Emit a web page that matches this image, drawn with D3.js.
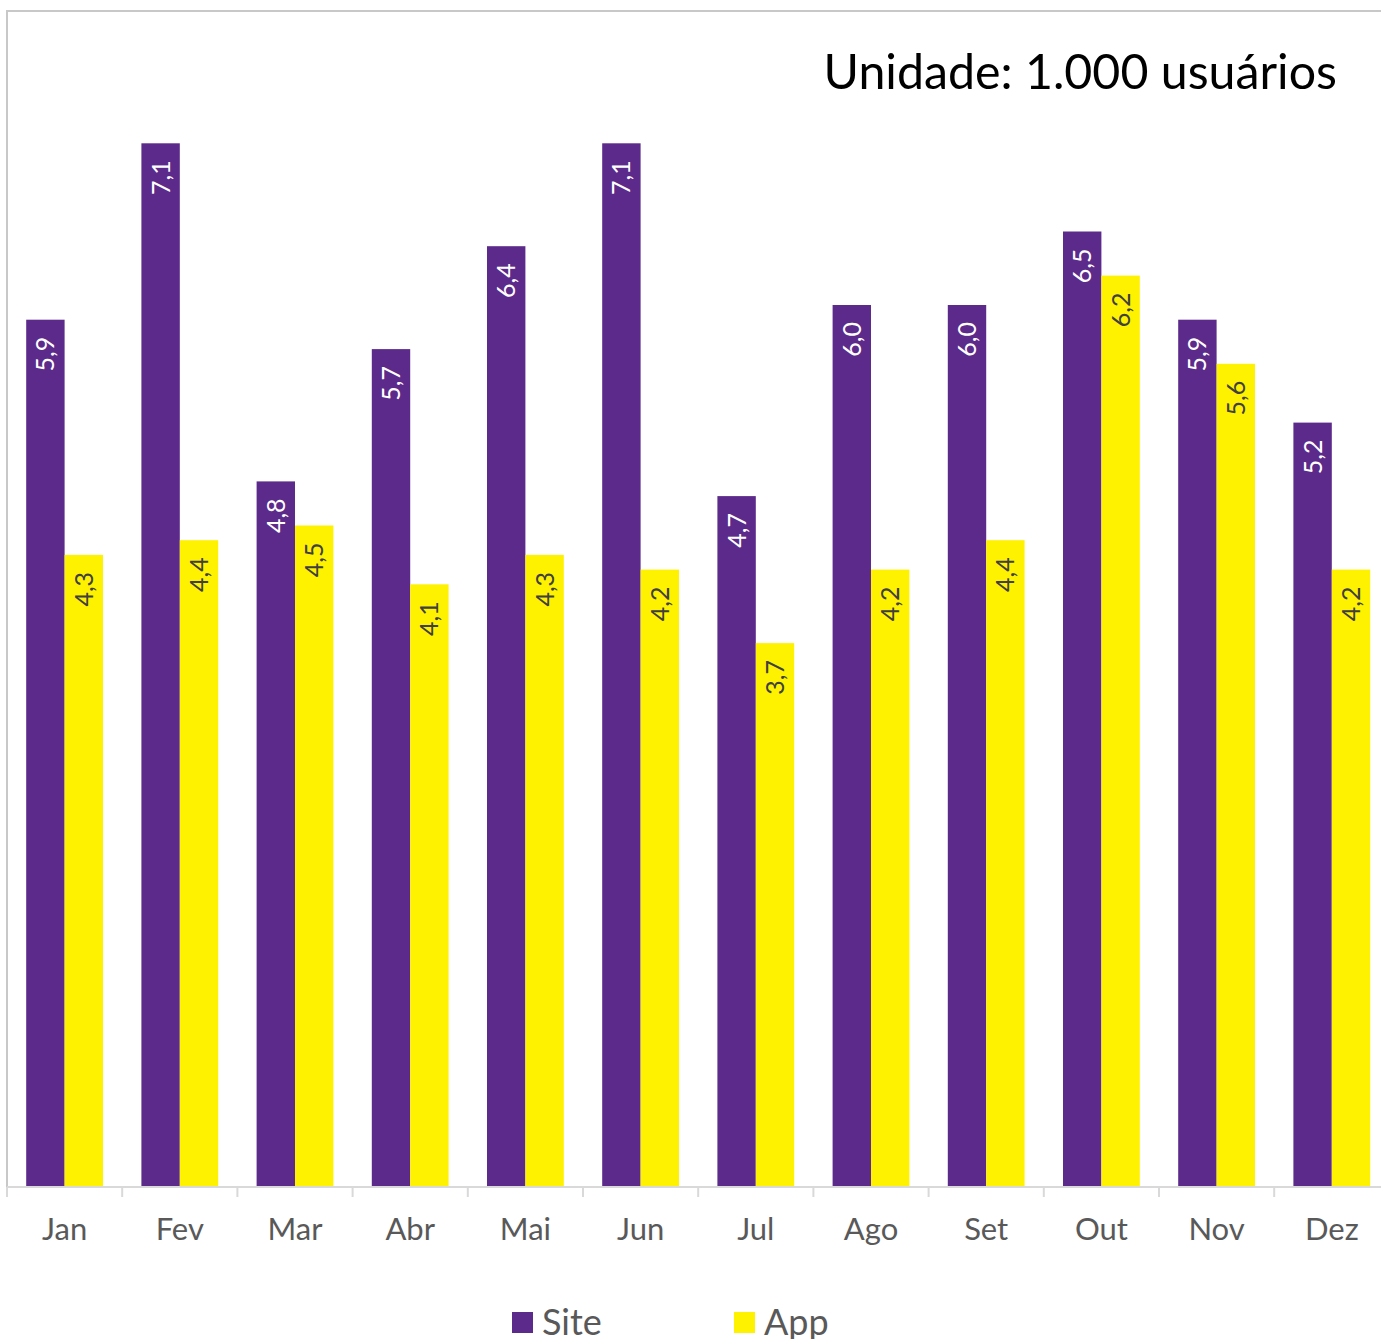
<!DOCTYPE html>
<html><head><meta charset="utf-8">
<script src="https://cdn.jsdelivr.net/npm/d3@7"></script>
<style>body{margin:0;background:#fff}svg{display:block}text{font-family:Lato,"Open Sans",sans-serif}</style>
</head><body>
<svg id="c" width="1381" height="1339"></svg>
<script>
const months = ["Jan","Fev","Mar","Abr","Mai","Jun","Jul","Ago","Set","Out","Nov","Dez"];
const siteValues = [5.9,7.1,4.8,5.7,6.4,7.1,4.7,6.0,6.0,6.5,5.9,5.2];
const appValues = [4.3,4.4,4.5,4.1,4.3,4.2,3.7,4.2,4.4,6.2,5.6,4.2];
const seriesNames = ["Site","App"];
const seriesColors = ["#5c2a8b","#fff200"];
const labelColors = ["#ffffff","#404040"];
const yMax = 8;
const titleText = "Unidade: 1.000 usuários";

(function(){
const svg = d3.select("#c");
const pLeft = 7, pTop = 11, pBottom = 1187, bandW = 115.2;
const pRight = pLeft + bandW * months.length;

svg.append("path").attr("d", `M${pLeft},${pBottom} V${pTop} H${pRight}`)
  .attr("fill","none").attr("stroke","#c8c8c8").attr("stroke-width",2);

const x = d3.scaleBand().domain(months).range([pLeft, pRight]).paddingInner(0).paddingOuter(0);
const x1 = d3.scaleBand().domain(seriesNames).range([0, bandW]).paddingInner(0).paddingOuter(0.5);
const y = d3.scaleLinear().domain([0, yMax]).range([pBottom, pTop]);

const data = months.map((m,i)=>({m, vals:[siteValues[i], appValues[i]]}));
const fmt = v => v.toFixed(1).replace(".", ",");

const g = svg.append("g");
data.forEach(d=>{
  d.vals.forEach((v,si)=>{
    const bx = x(d.m) + x1(seriesNames[si]);
    g.append("rect").attr("x", bx).attr("y", y(v)).attr("width", x1.bandwidth())
      .attr("height", y(0)-y(v)).attr("fill", seriesColors[si]);
    const cx = bx + x1.bandwidth()/2, ty = y(v) + 17;
    g.append("text").attr("transform", `translate(${cx},${ty}) rotate(-90)`)
      .attr("text-anchor","end").attr("dy","0.36em")
      .attr("font-size",25).attr("fill", labelColors[si]).text(fmt(v));
  });
});

svg.append("line").attr("x1", pLeft).attr("x2", pRight).attr("y1", pBottom).attr("y2", pBottom)
  .attr("stroke","#d9d9d9").attr("stroke-width",2);
const axis = svg.append("g").attr("transform", `translate(0,${pBottom})`)
  .call(d3.axisBottom(x).tickSize(0).tickFormat(""));
axis.select(".domain").remove();
months.forEach(m=>{
  svg.append("line").attr("x1", x(m)).attr("x2", x(m)).attr("y1", pBottom).attr("y2", pBottom+10)
    .attr("stroke","#d9d9d9").attr("stroke-width",2);
  svg.append("text").attr("x", x(m)+bandW/2).attr("y", 1240).attr("text-anchor","middle")
    .attr("font-size",31).attr("fill","#595959").text(m);
});

svg.append("text").attr("x", 1337).attr("y", 89).attr("text-anchor","end")
  .attr("font-size",48.3).attr("fill","#000").text(titleText);

const legX = [512, 734];
seriesNames.forEach((s,i)=>{
  svg.append("rect").attr("x", legX[i]).attr("y", 1312).attr("width", 21).attr("height", 21)
    .attr("fill", seriesColors[i]);
  svg.append("text").attr("x", legX[i]+30).attr("y", 1335).attr("font-size",36)
    .attr("fill","#595959").text(s);
});
})();
</script>
</body></html>
